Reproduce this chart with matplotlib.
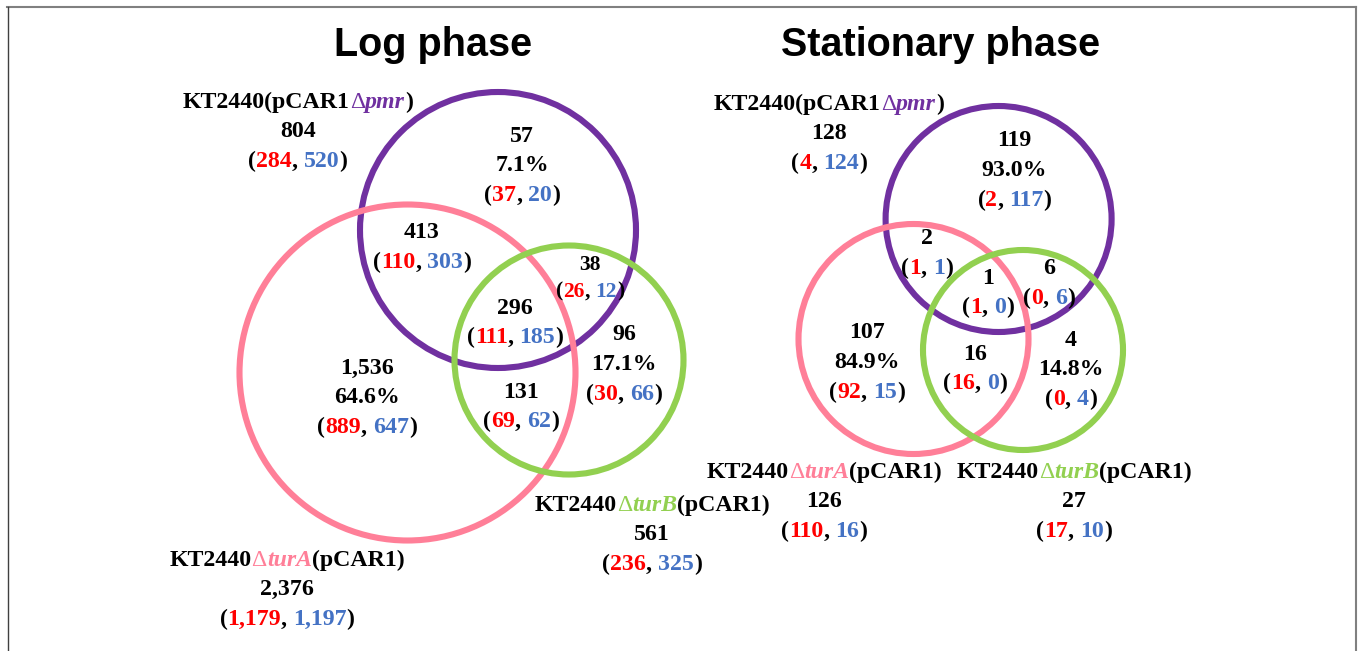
import matplotlib
matplotlib.use("Agg")
import matplotlib.pyplot as plt
from matplotlib.patches import Circle
from matplotlib.lines import Line2D
from matplotlib.offsetbox import TextArea, HPacker, DrawingArea, AnnotationBbox

# ---- data ----
strains = ["pmr", "turA", "turB"]

# Log phase: totals per strain (all, up, down)
log_total = [804, 2376, 561]
log_total_up = [284, 1179, 236]
log_total_down = [520, 1197, 325]
# only in one strain
log_only = [57, 1536, 96]
log_only_pct = ["7.1%", "64.6%", "17.1%"]
log_only_up = [37, 889, 30]
log_only_down = [20, 647, 66]
# overlaps: pmr&turA, pmr&turB, turA&turB, all three
log_ovl = [413, 38, 131, 296]
log_ovl_up = [110, 26, 69, 111]
log_ovl_down = [303, 12, 62, 185]

# Stationary phase
st_total = [128, 126, 27]
st_total_up = [4, 110, 17]
st_total_down = [124, 16, 10]
st_only = [119, 107, 4]
st_only_pct = ["93.0%", "84.9%", "14.8%"]
st_only_up = [2, 92, 0]
st_only_down = [117, 15, 4]
st_ovl = [2, 6, 16, 1]
st_ovl_up = [1, 0, 16, 1]
st_ovl_down = [1, 6, 0, 0]

# ---- style ----
PURPLE = "#7030A0"
PINK = "#FF7F98"
GREEN = "#92D050"
RED = "#FF0000"
BLUE = "#4472C4"
strain_colors = [PURPLE, PINK, GREEN]
SERIF = "Liberation Serif"
FS = 17.2
LINE = 29.5

fig = plt.figure(figsize=(13.6, 6.51), dpi=100)
ax = fig.add_axes([0, 0, 1, 1])
ax.set_xlim(0, 1360)
ax.set_ylim(651, 0)
ax.axis("off")


def seg(s, color="black", style="normal", weight="bold", size=FS):
    return TextArea(s, textprops=dict(color=color, fontsize=size, fontfamily=SERIF,
                                      fontweight=weight, fontstyle=style))


def put_line(x, y, parts):
    pack = HPacker(children=parts, align="baseline", pad=0, sep=0)
    ab = AnnotationBbox(pack, (x, y), frameon=False, box_alignment=(0.5, 0.5),
                        pad=0, zorder=5)
    ax.add_artist(ab)


def updown(x, y, up, down, size=FS):
    put_line(x, y, [seg("(", size=size), seg(f"{up:,}", RED, size=size),
                    seg(",", size=size), DrawingArea(size * 0.25, 1),
                    seg(f"{down:,}", BLUE, size=size), seg(")", size=size)])


def name_parts(i):
    c = strain_colors[i]
    if strains[i] == "pmr":
        return [seg("KT2440(pCAR1"), seg("\u0394", c, weight="normal"),
                seg("pmr", c, "italic"), seg(")")]
    return [seg("KT2440"), seg("\u0394", c, weight="normal"),
            seg(strains[i], c, "italic"), seg("(pCAR1)")]


def panel(title, tx, circles, labels, only_pos, ovl_pos, ovl_size,
          total, t_up, t_down, only, pct, o_up, o_down, ovl, v_up, v_down):
    ax.text(tx, 56, title, fontsize=28.5, fontweight="bold", fontfamily="Liberation Sans",
            ha="center", va="baseline")
    for i, (cx, cy, r) in enumerate(circles):
        ax.add_patch(Circle((cx, cy), r, fill=False, lw=4.4, ec=strain_colors[i], zorder=2))
    for i in range(3):
        x, y = labels[i]
        put_line(x, y, name_parts(i))
        put_line(x, y + LINE, [seg(f"{total[i]:,}")])
        updown(x, y + 2 * LINE, t_up[i], t_down[i])
        x, y = only_pos[i]
        put_line(x, y, [seg(f"{only[i]:,}")])
        put_line(x, y + LINE, [seg(pct[i])])
        updown(x, y + 2 * LINE, o_up[i], o_down[i])
    for j in range(4):
        x, y = ovl_pos[j]
        s = ovl_size[j]
        put_line(x, y, [seg(f"{ovl[j]:,}", size=s)])
        updown(x, y + LINE * s / FS, v_up[j], v_down[j], size=s)


panel("Log phase", 433,
      [(498, 230, 138), (407.5, 372.5, 168), (569, 360, 114.5)],
      [(298, 102), (287, 560), (652, 505)],
      [(522, 136), (367, 368), (624, 335)],
      [(422, 233), (590, 265), (521, 392), (515, 308)],
      [FS, 15.5, FS, FS],
      log_total, log_total_up, log_total_down, log_only, log_only_pct,
      log_only_up, log_only_down, log_ovl, log_ovl_up, log_ovl_down)

panel("Stationary phase", 941,
      [(998.6, 219, 113), (913.5, 339, 115), (1023, 350, 100)],
      [(829, 104), (824, 472), (1074, 472)],
      [(1014.5, 141), (867, 333), (1071, 340)],
      [(927, 239), (1049, 269), (975, 354), (988, 278)],
      [FS, FS, FS, FS],
      st_total, st_total_up, st_total_down, st_only, st_only_pct,
      st_only_up, st_only_down, st_ovl, st_ovl_up, st_ovl_down)

# frame around the figure
ax.add_line(Line2D([7, 1356], [7, 7], color="#808080", lw=1.5))
ax.add_line(Line2D([7.5, 7.5], [7, 651], color="#404040", lw=1.0))
ax.add_line(Line2D([1355.5, 1355.5], [7, 651], color="#808080", lw=1.5))

fig.savefig("out.png", dpi=100)
